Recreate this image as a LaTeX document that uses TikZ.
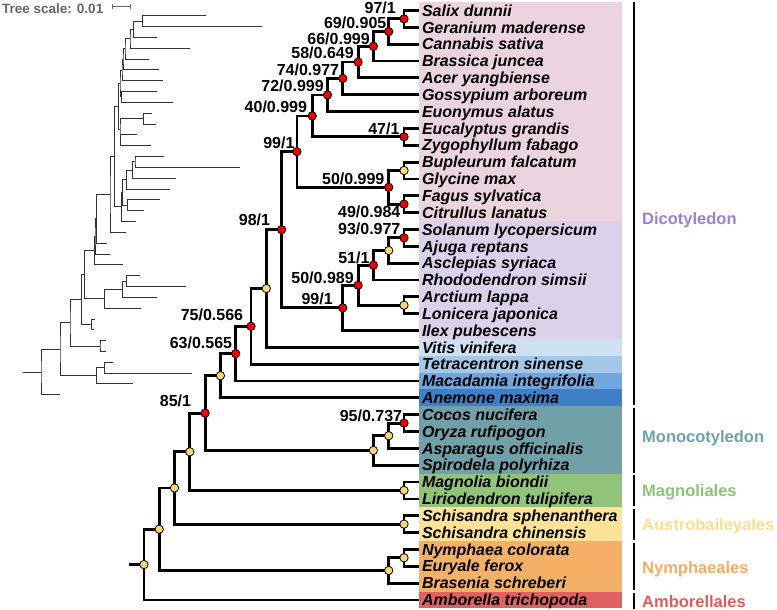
\documentclass[tikz,border=0pt]{standalone}
\usepackage{fontspec}
\setmainfont{Liberation Sans}
\usepackage{tikz}

\definecolor{dicotpink}{RGB}{236,212,223}
\definecolor{dicotlav}{RGB}{218,210,234}
\definecolor{vitisblue}{RGB}{206,225,243}
\definecolor{tetrablue}{RGB}{164,200,234}
\definecolor{macadblue}{RGB}{112,166,222}
\definecolor{anemoneblue}{RGB}{62,128,200}
\definecolor{monoteal}{RGB}{113,160,169}
\definecolor{magngreen}{RGB}{145,196,121}
\definecolor{austroyellow}{RGB}{253,226,151}
\definecolor{nymphorange}{RGB}{245,176,104}
\definecolor{amborred}{RGB}{225,97,97}
\definecolor{dicotlab}{RGB}{154,128,214}
\definecolor{monolab}{RGB}{108,162,173}
\definecolor{magnlab}{RGB}{139,197,113}
\definecolor{austrolab}{RGB}{252,222,140}
\definecolor{nymphlab}{RGB}{245,172,96}
\definecolor{amborlab}{RGB}{222,92,92}
\definecolor{nodered}{RGB}{240,0,0}
\definecolor{nodeyellow}{RGB}{246,216,118}
\definecolor{scalegrey}{RGB}{102,102,102}

\begin{document}
\begin{tikzpicture}[x=1pt,y=1pt,
  twig/.style={black!80,line width=0.9pt},
  branch/.style={black,line width=2.8pt},
  rednode/.style={fill=nodered,draw=black,line width=0.8pt},
  yelnode/.style={fill=nodeyellow,draw=black,line width=0.8pt},
  leaf/.style={anchor=west,inner xsep=2.5pt,inner ysep=0pt,text height=11.5pt,text depth=0pt,font=\fontsize{16}{16}\selectfont\bfseries\itshape},
  supp/.style={anchor=base east,inner sep=0pt,font=\fontsize{16}{16}\selectfont\bfseries},
  grp/.style={anchor=west,inner sep=0pt,text height=11.8pt,text depth=0pt,font=\fontsize{16.5}{16.5}\selectfont\bfseries},
  cladebar/.style={black,line width=2.6pt}]
\useasboundingbox (0,0) rectangle (777,-610);

% tree scale
\node [anchor=west,inner sep=0pt,text=scalegrey,font=\fontsize{13.5}{13.5}\selectfont\bfseries] (scale) at (2,-8.5) {Tree scale: 0.01};
\draw [scalegrey,line width=1pt] (112,-7) -- (130,-7) (112,-4.5) -- (112,-9.5) (130,-4.5) -- (130,-9.5);

% phylogram, tips
\coordinate (t0) at (205.7,-15.7);
\coordinate (t1) at (261.5,-26.5);
\coordinate (t2) at (156.7,-37.4);
\coordinate (t3) at (190,-48.2);
\coordinate (t4) at (149,-59.0);
\coordinate (t5) at (159.3,-69.9);
\coordinate (t6) at (163,-80.7);
\coordinate (t7) at (156.7,-91.5);
\coordinate (t8) at (172.7,-102.3);
\coordinate (t9) at (152.3,-113.2);
\coordinate (t10) at (155.7,-124.0);
\coordinate (t11) at (137,-134.8);
\coordinate (t12) at (151,-145.7);
\coordinate (t13) at (164.3,-156.5);
\coordinate (t14) at (240,-167.3);
\coordinate (t15) at (175.5,-178.2);
\coordinate (t16) at (170,-189.0);
\coordinate (t17) at (160,-199.8);
\coordinate (t18) at (144,-210.6);
\coordinate (t19) at (135.7,-221.5);
\coordinate (t20) at (126,-232.3);
\coordinate (t21) at (106.7,-243.1);
\coordinate (t22) at (110,-254.0);
\coordinate (t23) at (123.3,-264.8);
\coordinate (t24) at (140,-275.6);
\coordinate (t25) at (185.7,-286.5);
\coordinate (t26) at (156.7,-297.3);
\coordinate (t27) at (141,-308.1);
\coordinate (t28) at (95,-319.0);
\coordinate (t29) at (94.3,-329.8);
\coordinate (t30) at (106,-340.6);
\coordinate (t31) at (106,-351.4);
\coordinate (t32) at (112.7,-362.3);
\coordinate (t33) at (191.7,-373.1);
\coordinate (t34) at (133.3,-383.9);
\coordinate (t35) at (60,-394.8);
% phylogram, inner nodes
\coordinate (p1) at (142.7,-21.1);
\coordinate (p2) at (133.3,-29.25);
\coordinate (p3) at (130,-38.7);
\coordinate (p4) at (125,-48.85);
\coordinate (p5) at (123,-59.4);
\coordinate (p6) at (122,-70.05);
\coordinate (p7) at (121.7,-96.9);
\coordinate (p8) at (120,-83.5);
\coordinate (p9) at (143.3,-118.6);
\coordinate (p10) at (120.7,-140.25);
\coordinate (p11) at (120,-129.4);
\coordinate (p12) at (118.3,-106.45);
\coordinate (p13) at (135,-161.9);
\coordinate (p14) at (132.7,-170.05);
\coordinate (p15) at (126.7,-179.5);
\coordinate (p16) at (127.7,-205.2);
\coordinate (p17) at (122.7,-192.35);
\coordinate (p18) at (121.7,-206.9);
\coordinate (p19) at (114.3,-156.7);
\coordinate (p20) at (110,-194.5);
\coordinate (p21) at (96.7,-218.8);
\coordinate (p22) at (95,-236.4);
\coordinate (p23) at (94.3,-250.6);
\coordinate (p24) at (126.7,-281.05);
\coordinate (p25) at (122.7,-289.2);
\coordinate (p26) at (104.3,-298.65);
\coordinate (p27) at (84.3,-274.6);
\coordinate (p28) at (91.7,-324.4);
\coordinate (p29) at (81.7,-299.5);
\coordinate (p30) at (100,-346);
\coordinate (p31) at (70,-322.75);
\coordinate (p32) at (104.3,-367.7);
\coordinate (p33) at (96.7,-375.8);
\coordinate (p34) at (60,-349.3);
\coordinate (p35) at (41,-372.05);
\coordinate (p0) at (22.7,-372.05);

\draw [twig] (t0) -| (p1) |- (t1);
\draw [twig] (p1) -| (p2) |- (t2);
\draw [twig] (p2) -| (p3) |- (t3);
\draw [twig] (p3) -| (p4) |- (t4);
\draw [twig] (p4) -| (p5) |- (t5);
\draw [twig] (p5) -| (p6) |- (t6);
\draw [twig] (t7) -| (p7) |- (t8);
\draw [twig] (p6) -| (p8) |- (p7);
\draw [twig] (t9) -| (p9) |- (t10);
\draw [twig] (t11) -| (p10) |- (t12);
\draw [twig] (p9) -| (p11) |- (p10);
\draw [twig] (p8) -| (p12) |- (p11);
\draw [twig] (t13) -| (p13) |- (t14);
\draw [twig] (p13) -| (p14) |- (t15);
\draw [twig] (p14) -| (p15) |- (t16);
\draw [twig] (t17) -| (p16) |- (t18);
\draw [twig] (p15) -| (p17) |- (p16);
\draw [twig] (p17) -| (p18) |- (t19);
\draw [twig] (p12) -| (p19) |- (p18);
\draw [twig] (p19) -| (p20) |- (t20);
\draw [twig] (p20) -| (p21) |- (t21);
\draw [twig] (p21) -| (p22) |- (t22);
\draw [twig] (p22) -| (p23) |- (t23);
\draw [twig] (t24) -| (p24) |- (t25);
\draw [twig] (p24) -| (p25) |- (t26);
\draw [twig] (p25) -| (p26) |- (t27);
\draw [twig] (p23) -| (p27) |- (p26);
\draw [twig] (t28) -| (p28) |- (t29);
\draw [twig] (p27) -| (p29) |- (p28);
\draw [twig] (t30) -| (p30) |- (t31);
\draw [twig] (p29) -| (p31) |- (p30);
\draw [twig] (t32) -| (p32) |- (t33);
\draw [twig] (p32) -| (p33) |- (t34);
\draw [twig] (p31) -| (p34) |- (p33);
\draw [twig] (p34) -| (p35) |- (t35);
\draw [twig] (p0) -- (p35);

% colour bands
\fill [dicotpink] (419.3,-2.1) rectangle (622,-221);
\fill [dicotlav] (419.3,-221) rectangle (622,-338.9);
\fill [vitisblue] (419.3,-338.9) rectangle (622,-355.7);
\fill [tetrablue] (419.3,-355.7) rectangle (622,-372.6);
\fill [macadblue] (419.3,-372.6) rectangle (622,-389.4);
\fill [anemoneblue] (419.3,-389.4) rectangle (622,-406.2);
\fill [monoteal] (419.3,-406.2) rectangle (622,-473.6);
\fill [magngreen] (419.3,-473.6) rectangle (622,-507.3);
\fill [austroyellow] (419.3,-507.3) rectangle (622,-541);
\fill [nymphorange] (419.3,-541) rectangle (622,-591.5);
\fill [amborred] (419.3,-591.5) rectangle (622,-608.3);

% species
\node [leaf] (salix) at (419.3,-10.5) {Salix dunnii};
\node [leaf] (geranium) at (419.3,-27.3) {Geranium maderense};
\node [leaf] (cannabis) at (419.3,-44.2) {Cannabis sativa};
\node [leaf] (brassica) at (419.3,-61.0) {Brassica juncea};
\node [leaf] (acer) at (419.3,-77.9) {Acer yangbiense};
\node [leaf] (gossypium) at (419.3,-94.7) {Gossypium arboreum};
\node [leaf] (euonymus) at (419.3,-111.5) {Euonymus alatus};
\node [leaf] (eucalyptus) at (419.3,-128.4) {Eucalyptus grandis};
\node [leaf] (zygophyllum) at (419.3,-145.2) {Zygophyllum fabago};
\node [leaf] (bupleurum) at (419.3,-162.1) {Bupleurum falcatum};
\node [leaf] (glycine) at (419.3,-178.9) {Glycine max};
\node [leaf] (fagus) at (419.3,-195.7) {Fagus sylvatica};
\node [leaf] (citrullus) at (419.3,-212.6) {Citrullus lanatus};
\node [leaf] (solanum) at (419.3,-229.4) {Solanum lycopersicum};
\node [leaf] (ajuga) at (419.3,-246.3) {Ajuga reptans};
\node [leaf] (asclepias) at (419.3,-263.1) {Asclepias syriaca};
\node [leaf] (rhodo) at (419.3,-279.9) {Rhododendron simsii};
\node [leaf] (arctium) at (419.3,-296.8) {Arctium lappa};
\node [leaf] (lonicera) at (419.3,-313.6) {Lonicera japonica};
\node [leaf] (ilex) at (419.3,-330.5) {Ilex pubescens};
\node [leaf] (vitis) at (419.3,-347.3) {Vitis vinifera};
\node [leaf] (tetra) at (419.3,-364.1) {Tetracentron sinense};
\node [leaf] (macad) at (419.3,-381.0) {Macadamia integrifolia};
\node [leaf] (anemone) at (419.3,-397.8) {Anemone maxima};
\node [leaf] (cocos) at (419.3,-414.7) {Cocos nucifera};
\node [leaf] (oryza) at (419.3,-431.5) {Oryza rufipogon};
\node [leaf] (asparagus) at (419.3,-448.3) {Asparagus officinalis};
\node [leaf] (spirodela) at (419.3,-465.2) {Spirodela polyrhiza};
\node [leaf] (magnolia) at (419.3,-482.0) {Magnolia biondii};
\node [leaf] (lirio) at (419.3,-498.9) {Liriodendron tulipifera};
\node [leaf] (schsph) at (419.3,-515.7) {Schisandra sphenanthera};
\node [leaf] (schchi) at (419.3,-532.5) {Schisandra chinensis};
\node [leaf] (nymphaea) at (419.3,-549.4) {Nymphaea colorata};
\node [leaf] (euryale) at (419.3,-566.2) {Euryale ferox};
\node [leaf] (brasenia) at (419.3,-583.1) {Brasenia schreberi};
\node [leaf] (amborella) at (419.3,-599.9) {Amborella trichopoda};

% cladogram, inner nodes
\coordinate (c1) at (404.0,-18.9);
\coordinate (c2) at (388.7,-31.55);
\coordinate (c3) at (373.4,-46.3);
\coordinate (c4) at (358.1,-62.1);
\coordinate (c5) at (342.8,-78.4);
\coordinate (c6) at (327.5,-94.95);
\coordinate (c7) at (404.0,-136.8);
\coordinate (c8) at (312.2,-115.9);
\coordinate (c9) at (404.0,-170.5);
\coordinate (c10) at (404.0,-204.15);
\coordinate (c11) at (388.7,-187.3);
\coordinate (c12) at (296.9,-151.6);
\coordinate (c13) at (404.0,-237.85);
\coordinate (c14) at (388.7,-250.5);
\coordinate (c15) at (373.4,-265.2);
\coordinate (c16) at (404.0,-305.2);
\coordinate (c17) at (358.1,-285.2);
\coordinate (c18) at (342.8,-307.85);
\coordinate (c19) at (281.6,-229.7);
\coordinate (c20) at (266.3,-288.5);
\coordinate (c21) at (251.0,-326.3);
\coordinate (c22) at (235.7,-353.65);
\coordinate (c23) at (220.4,-375.7);
\coordinate (c24) at (404.0,-423.1);
\coordinate (c25) at (388.7,-435.7);
\coordinate (c26) at (373.4,-450.45);
\coordinate (c27) at (205.1,-413.1);
\coordinate (c28) at (404.0,-490.45);
\coordinate (c29) at (189.8,-451.8);
\coordinate (c30) at (404.0,-524.1);
\coordinate (c31) at (174.5,-487.95);
\coordinate (c32) at (404.0,-557.8);
\coordinate (c33) at (388.7,-570.45);
\coordinate (c34) at (159.2,-529.2);
\coordinate (c35) at (143.9,-564.55);
\coordinate (c0) at (128.6,-564.55);

\draw [branch] (salix) -| (c1) |- (geranium);
\draw [branch] (c1) -| (c2) |- (cannabis);
\draw [branch] (c2) -| (c3) |- (brassica);
\draw [branch] (c3) -| (c4) |- (acer);
\draw [branch] (c4) -| (c5) |- (gossypium);
\draw [branch] (c5) -| (c6) |- (euonymus);
\draw [branch] (eucalyptus) -| (c7) |- (zygophyllum);
\draw [branch] (c6) -| (c8) |- (c7);
\draw [branch] (bupleurum) -| (c9) |- (glycine);
\draw [branch] (fagus) -| (c10) |- (citrullus);
\draw [branch] (c9) -| (c11) |- (c10);
\draw [branch] (c8) -| (c12) |- (c11);
\draw [branch] (solanum) -| (c13) |- (ajuga);
\draw [branch] (c13) -| (c14) |- (asclepias);
\draw [branch] (c14) -| (c15) |- (rhodo);
\draw [branch] (arctium) -| (c16) |- (lonicera);
\draw [branch] (c15) -| (c17) |- (c16);
\draw [branch] (c17) -| (c18) |- (ilex);
\draw [branch] (c12) -| (c19) |- (c18);
\draw [branch] (c19) -| (c20) |- (vitis);
\draw [branch] (c20) -| (c21) |- (tetra);
\draw [branch] (c21) -| (c22) |- (macad);
\draw [branch] (c22) -| (c23) |- (anemone);
\draw [branch] (cocos) -| (c24) |- (oryza);
\draw [branch] (c24) -| (c25) |- (asparagus);
\draw [branch] (c25) -| (c26) |- (spirodela);
\draw [branch] (c23) -| (c27) |- (c26);
\draw [branch] (magnolia) -| (c28) |- (lirio);
\draw [branch] (c27) -| (c29) |- (c28);
\draw [branch] (schsph) -| (c30) |- (schchi);
\draw [branch] (c29) -| (c31) |- (c30);
\draw [branch] (nymphaea) -| (c32) |- (euryale);
\draw [branch] (c32) -| (c33) |- (brasenia);
\draw [branch] (c31) -| (c34) |- (c33);
\draw [branch] (c34) -| (c35) |- (amborella);
\draw [branch] (c0) -- (c35);

% support dots
\filldraw [rednode] (c1) circle (4.2);
\filldraw [rednode] (c2) circle (4.2);
\filldraw [rednode] (c3) circle (4.2);
\filldraw [rednode] (c4) circle (4.2);
\filldraw [rednode] (c5) circle (4.2);
\filldraw [rednode] (c6) circle (4.2);
\filldraw [rednode] (c7) circle (4.2);
\filldraw [rednode] (c8) circle (4.2);
\filldraw [yelnode] (c9) circle (4.2);
\filldraw [rednode] (c10) circle (4.2);
\filldraw [rednode] (c11) circle (4.2);
\filldraw [rednode] (c12) circle (4.2);
\filldraw [rednode] (c13) circle (4.2);
\filldraw [yelnode] (c14) circle (4.2);
\filldraw [rednode] (c15) circle (4.2);
\filldraw [yelnode] (c16) circle (4.2);
\filldraw [rednode] (c17) circle (4.2);
\filldraw [rednode] (c18) circle (4.2);
\filldraw [rednode] (c19) circle (4.2);
\filldraw [yelnode] (c20) circle (4.2);
\filldraw [rednode] (c21) circle (4.2);
\filldraw [rednode] (c22) circle (4.2);
\filldraw [yelnode] (c23) circle (4.2);
\filldraw [rednode] (c24) circle (4.2);
\filldraw [yelnode] (c25) circle (4.2);
\filldraw [yelnode] (c26) circle (4.2);
\filldraw [rednode] (c27) circle (4.2);
\filldraw [yelnode] (c28) circle (4.2);
\filldraw [yelnode] (c29) circle (4.2);
\filldraw [yelnode] (c30) circle (4.2);
\filldraw [yelnode] (c31) circle (4.2);
\filldraw [yelnode] (c32) circle (4.2);
\filldraw [yelnode] (c33) circle (4.2);
\filldraw [yelnode] (c34) circle (4.2);
\filldraw [yelnode] (c35) circle (4.2);

% support values
\node [supp] (s1) at ([shift={(-8,5.2)}]c1) {97/1};
\node [supp] (s2) at ([shift={(-2.2,2.6)}]c2) {69/0.905};
\node [supp] (s3) at ([shift={(-3.5,2)}]c3) {66/0.999};
\node [supp] (s4) at ([shift={(-4.2,3.8)}]c4) {58/0.649};
\node [supp] (s5) at ([shift={(-3.5,2.4)}]c5) {74/0.977};
\node [supp] (s6) at ([shift={(-3.6,3.3)}]c6) {72/0.999};
\node [supp] (s7) at ([shift={(-4.4,1.8)}]c7) {47/1};
\node [supp] (s8) at ([shift={(-5,3)}]c8) {40/0.999};
\node [supp] (s10) at ([shift={(-3.4,-13.5)}]c10) {49/0.984};
\node [supp] (s11) at ([shift={(-4.1,3)}]c11) {50/0.999};
\node [supp] (s12) at ([shift={(-2.3,3.6)}]c12) {99/1};
\node [supp] (s13) at ([shift={(-3.4,3.5)}]c13) {93/0.977};
\node [supp] (s15) at ([shift={(-3.8,2)}]c15) {51/1};
\node [supp] (s17) at ([shift={(-4.2,2)}]c17) {50/0.989};
\node [supp] (s18) at ([shift={(-9.9,3)}]c18) {99/1};
\node [supp] (s19) at ([shift={(-11.4,4.7)}]c19) {98/1};
\node [supp] (s21) at ([shift={(-7.7,6.3)}]c21) {75/0.566};
\node [supp] (s22) at ([shift={(-3.4,5.3)}]c22) {63/0.565};
\node [supp] (s24) at ([shift={(-1.7,2)}]c24) {95/0.737};
\node [supp] (s27) at ([shift={(-13.9,6.4)}]c27) {85/1};

% clades
\draw [cladebar] (634,-2) -- (634,-405);
\draw [cladebar] (634,-407.5) -- (634,-472.5);
\draw [cladebar] (634,-475) -- (634,-506);
\draw [cladebar] (634,-508.5) -- (634,-540);
\draw [cladebar] (634,-542.5) -- (634,-590);
\draw [cladebar] (634,-593) -- (634,-608.5);
\node [grp,text=dicotlab] (dicot) at (642,-219) {Dicotyledon};
\node [grp,text=monolab] (mono) at (642,-436.7) {Monocotyledon};
\node [grp,text=magnlab] (magn) at (642,-490.7) {Magnoliales};
\node [grp,text=austrolab] (austro) at (642,-524.3) {Austrobaileyales};
\node [grp,text=nymphlab] (nymph) at (642,-567.7) {Nymphaeales};
\node [grp,text=amborlab] (ambor) at (642,-601.7) {Amborellales};
\end{tikzpicture}
\end{document}
